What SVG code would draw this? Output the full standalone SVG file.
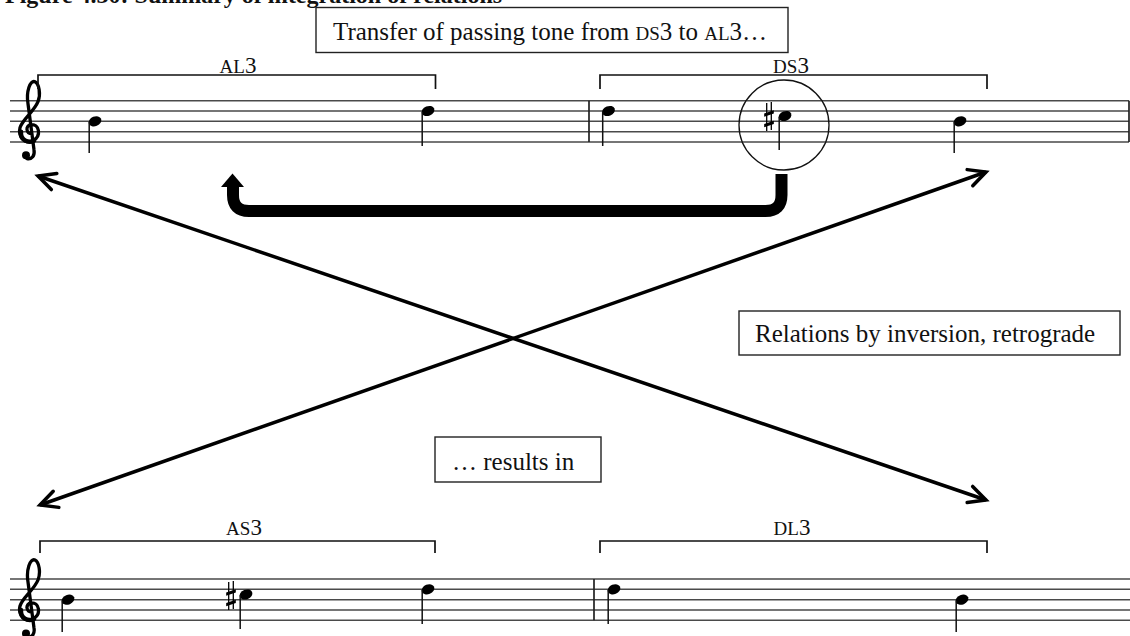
<svg xmlns="http://www.w3.org/2000/svg" xmlns:xlink="http://www.w3.org/1999/xlink" width="1130" height="636" viewBox="0 0 1130 636">
<style>
.staff{stroke:#4a4a4a;stroke-width:1.4;fill:none}
.bar{stroke:#222;stroke-width:1.7}
.stem{stroke:#111;stroke-width:1.5}
.brk{stroke:#111;stroke-width:1.7;fill:none}
.box{fill:#fff;stroke:#222;stroke-width:1.4}
.t{font-family:"Liberation Serif","Times New Roman",serif;font-size:25px;fill:#111}
.t .sc{font-size:19px}
.lab{font-family:"Liberation Serif","Times New Roman",serif;font-size:23px;fill:#111;text-anchor:middle}
.lab .sc{font-size:19px}
.xarrow{stroke:#000;stroke-width:3.5;fill:none;marker-start:url(#vhead);marker-end:url(#vhead)}
</style>
<defs>
<marker id="vhead" markerUnits="userSpaceOnUse" viewBox="-22 -14 26 28" markerWidth="26" markerHeight="28" refX="0" refY="0" orient="auto-start-reverse" overflow="visible">
<path d="M-17,-8.5 L0,0 L-17,8.5" fill="none" stroke="#000" stroke-width="3.5" stroke-linecap="round" stroke-linejoin="miter"/>
</marker>
<g id="clef">
<path d="M2,2 C-4,2 -5,-6 1,-7 C9,-8 12,4 3,9 C-6,13 -12,4 -10,-4 C-8,-12 4,-20 8,-30 C11,-38 9,-48 5,-50 C0,-52 -4,-40 -2,-28 L4,18 C5,24 2,28 -3,27" fill="none" stroke="#000" stroke-width="3.3" stroke-linecap="round" stroke-linejoin="round"/>
<path d="M-9,0 C-10,8 -2,12 4,9" fill="none" stroke="#000" stroke-width="4.5" stroke-linecap="round"/>
<circle cx="-4" cy="23.5" r="4" fill="#000"/>
</g>
<ellipse id="head" cx="0" cy="0" rx="6.6" ry="4.8" transform="rotate(-22)" fill="#000"/>
<g id="sharp">
<line x1="-2.3" y1="-14" x2="-2.3" y2="14" stroke="#000" stroke-width="1.3"/>
<line x1="2.3" y1="-15" x2="2.3" y2="13" stroke="#000" stroke-width="1.3"/>
<path d="M-4.8,-3.5 L4.8,-6.8 L4.8,-3.6 L-4.8,-0.3 Z" fill="#000"/>
<path d="M-4.8,7 L4.8,3.7 L4.8,6.9 L-4.8,10.2 Z" fill="#000"/>
</g>
</defs>
<rect width="1130" height="636" fill="#fff"/>

<text x="5" y="3" style="font-family:'Liberation Serif','Times New Roman',serif;font-size:24px;font-weight:bold;fill:#111">Figure 4.30: Summary of integration of relations</text>

<g id="staff-top">
<path class="staff" d="M10,100.7 H1129 M10,111 H1129 M10,121.3 H1129 M10,131.7 H1129 M10,142 H1129"/>
<line class="bar" x1="589" y1="100.7" x2="589" y2="142"/>
<line class="bar" x1="1129" y1="100.7" x2="1129" y2="142"/>
<use xlink:href="#clef" href="#clef" x="30" y="131.7"/>
<use href="#head" x="95" y="121.3"/><line class="stem" x1="89.2" y1="122" x2="89.2" y2="153"/>
<use href="#head" x="428" y="111"/><line class="stem" x1="422.2" y1="112" x2="422.2" y2="146"/>
<use href="#head" x="608.5" y="111"/><line class="stem" x1="602.7" y1="112" x2="602.7" y2="146"/>
<use href="#sharp" x="769" y="117"/>
<use href="#head" x="785" y="116"/><line class="stem" x1="779.2" y1="117" x2="779.2" y2="150"/>
<use href="#head" x="960" y="121.3"/><line class="stem" x1="954.2" y1="122" x2="954.2" y2="153"/>
<circle cx="784" cy="125" r="45" fill="none" stroke="#111" stroke-width="1.3"/>
</g>

<g id="bracket-AL3">
<path class="brk" d="M38,89 V75 H435.5 V89"/>
<text class="lab" x="238" y="73"><tspan class="sc">AL</tspan>3</text>
</g>
<g id="bracket-DS3">
<path class="brk" d="M600,89 V75 H987 V89"/>
<text class="lab" x="791" y="73"><tspan class="sc">DS</tspan>3</text>
</g>

<g id="staff-bottom">
<path class="staff" d="M10,579 H1130 M10,589.3 H1130 M10,599.7 H1130 M10,610 H1130 M10,620.3 H1130"/>
<line class="bar" x1="594" y1="579" x2="594" y2="620.3"/>
<use href="#clef" x="30" y="610"/>
<use href="#head" x="68" y="599.7"/><line class="stem" x1="62.2" y1="600.4" x2="62.2" y2="632"/>
<use href="#sharp" x="231" y="596"/>
<use href="#head" x="246" y="594.5"/><line class="stem" x1="240.2" y1="595.2" x2="240.2" y2="629"/>
<use href="#head" x="428" y="589.3"/><line class="stem" x1="422.2" y1="590" x2="422.2" y2="624"/>
<use href="#head" x="614" y="589.3"/><line class="stem" x1="608.2" y1="590" x2="608.2" y2="624"/>
<use href="#head" x="962" y="599.7"/><line class="stem" x1="956.2" y1="600.4" x2="956.2" y2="632"/>
</g>

<g id="bracket-AS3">
<path class="brk" d="M40,553 V541 H435 V553"/>
<text class="lab" x="244" y="535"><tspan class="sc">AS</tspan>3</text>
</g>
<g id="bracket-DL3">
<path class="brk" d="M600,553 V541 H987 V553"/>
<text class="lab" x="792" y="535"><tspan class="sc">DL</tspan>3</text>
</g>

<g id="box-transfer">
<rect class="box" x="316" y="7.5" width="472" height="45"/>
<text class="t" x="333" y="40">Transfer of passing tone from <tspan class="sc">DS</tspan>3 to <tspan class="sc">AL</tspan>3…</text>
</g>
<g id="box-relations">
<rect class="box" x="739" y="311" width="381" height="44"/>
<text class="t" x="755" y="342">Relations by inversion, retrograde</text>
</g>
<g id="box-results">
<rect class="box" x="435" y="437" width="166" height="45"/>
<text class="t" x="452" y="470">… results in</text>
</g>

<g id="connectors">
<path d="M781.5,174 V195 Q781.5,211 765.5,211 H249 Q233,211 233,195 V185" fill="none" stroke="#000" stroke-width="12"/>
<path d="M232.5,173.5 L244,187 L221,187 Z" fill="#000"/>
<line class="xarrow" x1="38" y1="176" x2="986" y2="500"/>
<line class="xarrow" x1="986" y1="172" x2="40" y2="505"/>
</g>
</svg>
